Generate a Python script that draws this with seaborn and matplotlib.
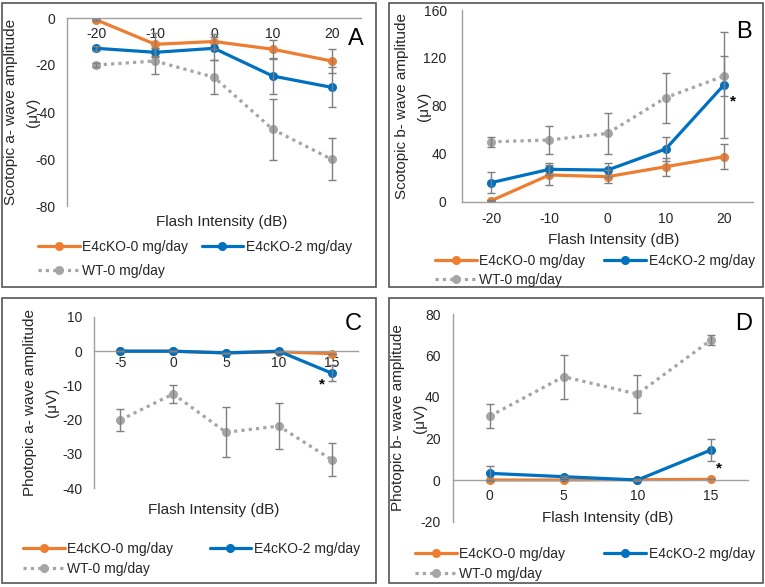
import numpy as np
import pandas as pd
import matplotlib
matplotlib.use("Agg")
import matplotlib.pyplot as plt
import seaborn as sns
from matplotlib.patches import Rectangle
from matplotlib.lines import Line2D

sns.set_theme(style="white")
plt.rcParams['font.family'] = ['Liberation Sans', 'DejaVu Sans']

series_names = ["E4cKO-0 mg/day", "E4cKO-2 mg/day", "WT-0 mg/day"]

# ---- Panel A: scotopic a-wave ----
a_x = ["-20", "-10", "0", "10", "20"]
a_e40 = [-0.8, -11.2, -10.0, -13.3, -18.3]
a_e40_err = [0.5, 5.0, 3.0, 4.0, 5.0]
a_e42 = [-12.9, -14.6, -12.9, -24.7, -29.5]
a_e42_err = [1.0, 2.0, 5.0, 7.5, 8.5]
a_wt = [-20.0, -18.3, -25.2, -47.4, -60.1]
a_wt_err = [1.0, 5.5, 7.3, 13.0, 8.9]

# ---- Panel B: scotopic b-wave ----
b_x = ["-20", "-10", "0", "10", "20"]
b_e40 = [0.8, 22.3, 20.9, 29.2, 37.6]
b_e40_err = [0.5, 8.0, 5.5, 7.5, 10.4]
b_e42 = [15.9, 27.0, 26.4, 44.0, 97.4]
b_e42_err = [8.5, 5.0, 6.0, 10.0, 44.0]
b_wt = [50.0, 51.5, 57.0, 86.8, 104.9]
b_wt_err = [4.0, 11.4, 17.0, 21.0, 17.0]

# ---- Panel C: photopic a-wave ----
c_x = ["-5", "0", "5", "10", "15"]
c_e40 = [0.0, 0.0, -0.5, -0.2, -0.7]
c_e40_err = [0.0, 0.0, 0.0, 0.0, 0.0]
c_e42 = [0.0, 0.0, -0.5, 0.0, -6.4]
c_e42_err = [0.0, 0.0, 0.0, 0.0, 2.4]
c_wt = [-20.1, -12.5, -23.7, -21.9, -31.7]
c_wt_err = [3.3, 2.6, 7.3, 6.7, 4.9]

# ---- Panel D: photopic b-wave ----
d_x = ["0", "5", "10", "15"]
d_e40 = [0.0, 0.0, 0.2, 0.3]
d_e40_err = [0.0, 0.0, 0.0, 0.0]
d_e42 = [3.2, 1.6, 0.0, 14.5]
d_e42_err = [3.5, 0.5, 0.5, 5.5]
d_wt = [30.8, 49.8, 41.4, 67.5]
d_wt_err = [5.6, 10.6, 9.2, 2.5]

W, H = 765, 587
fig = plt.figure(figsize=(W / 100, H / 100), dpi=100)

COLORS = ['#ED7D31', '#0070C0', '#A5A5A5']
DOT = (0, (1.0, 1.3))
STYLES = ['-', '-', DOT]
TXT = '#262626'
AXC = '#A0A0A0'


def ax_at(l, t, r, b):
    return fig.add_axes([l / W, 1 - b / H, (r - l) / W, (b - t) / H])


def box(l, t, r, b):
    fig.patches.append(Rectangle((l / W, 1 - b / H), (r - l) / W, (b - t) / H,
                                 transform=fig.transFigure, fill=False,
                                 edgecolor='#555555', linewidth=1.2))


def panel(ax, cats, vals, errs, ylim, ystep, ypad, xpad):
    pos = np.arange(len(cats))
    for i, (v, e) in enumerate(zip(vals, errs)):
        df = pd.DataFrame({'pos': pos, 'value': v, 'err': e})
        sns.lineplot(data=df, x='pos', y='value', ax=ax, color=COLORS[i],
                     linestyle=STYLES[i], linewidth=2.3, marker='o',
                     markersize=6.5, markeredgewidth=0, errorbar=None,
                     legend=False, zorder=2 + i,
                     dash_capstyle='butt')
        ax.errorbar(df['pos'], df['value'], yerr=df['err'], fmt='none',
                    ecolor='#7F7F7F', elinewidth=1.0, capsize=3,
                    capthick=1.0, zorder=6)
    ax.set_xlim(-0.5, len(cats) - 0.5)
    ax.set_ylim(*ylim)
    ax.set_xticks(pos)
    ax.set_xticklabels(cats)
    ticks = np.arange(ylim[0], ylim[1] + 0.1, ystep)
    ax.set_yticks(ticks)
    ax.set_yticklabels([f"{int(t)}" for t in ticks])
    ax.set_xlabel('')
    ax.set_ylabel('')
    for s in ['top', 'right']:
        ax.spines[s].set_visible(False)
    ax.spines['left'].set_color(AXC)
    ax.spines['bottom'].set_color(AXC)
    ax.spines['left'].set_linewidth(1.0)
    ax.spines['bottom'].set_linewidth(1.0)
    ax.spines['bottom'].set_position(('data', 0))
    ax.tick_params(axis='both', length=0, labelsize=10, colors=TXT)
    ax.tick_params(axis='y', pad=ypad)
    ax.tick_params(axis='x', pad=xpad)
    ax.set_facecolor('none')
    ax.grid(False)


def legend(x, y_center, colsp, labsp):
    hs = [Line2D([], [], color=COLORS[i], linestyle=STYLES[i], linewidth=2.3,
                 marker='o', markersize=6.5, markeredgewidth=0)
          for i in range(3)]
    order = [0, 2, 1]
    fig.legend([hs[i] for i in order], [series_names[i] for i in order],
               loc='upper left', bbox_to_anchor=(x / W, 1 - (y_center - 5) / H),
               bbox_transform=fig.transFigure, ncol=2, frameon=False,
               borderpad=0, borderaxespad=0, handlelength=3.0,
               handletextpad=0.2, columnspacing=colsp, labelspacing=labsp,
               fontsize=10, labelcolor=TXT)


def ylabel(x, y, text):
    fig.text(x / W, 1 - y / H, text, rotation=90, ha='center', va='center',
             fontsize=11, color=TXT, linespacing=1.8, multialignment='center')


def xlabel(x, y):
    fig.text(x / W, 1 - y / H, "Flash Intensity (dB)", ha='center',
             va='center', fontsize=11, color=TXT)


def letter(x, y, t):
    fig.text(x / W, 1 - y / H, t, ha='center', va='baseline', fontsize=17,
             color='black')


# boxes
box(1.5, 2.5, 376, 287)
box(389, 2.5, 763, 287)
box(1.5, 298, 376, 583)
box(389, 298, 763, 583)

# Panel A
axA = ax_at(67, 18, 361, 206)
panel(axA, a_x, [a_e40, a_e42, a_wt], [a_e40_err, a_e42_err, a_wt_err],
      (-80, 0), 20, 8.5, 6.5)
ylabel(22, 112, "Scotopic a- wave amplitude\n(\u03bcV)")
xlabel(222, 222)
letter(356, 45, "A")
legend(38, 245, 0.95, 0.72)

# Panel B
axB = ax_at(462, 10, 753, 201.7)
panel(axB, b_x, [b_e40, b_e42, b_wt], [b_e40_err, b_e42_err, b_wt_err],
      (0, 160), 40, 11, 7.5)
ylabel(413, 106, "Scotopic b- wave amplitude\n(\u03bcV)")
xlabel(614, 240)
letter(744, 38, "B")
axB.text(4.15, 80.1, "*", ha='center', va='baseline', fontsize=11,
         fontweight='bold', color='black')
legend(435, 259, 1.37, 0.36)

# Panel C
axC = ax_at(94, 317, 358, 488)
panel(axC, c_x, [c_e40, c_e42, c_wt], [c_e40_err, c_e42_err, c_wt_err],
      (-40, 10), 10, 8.5, 3.5)
ylabel(41, 402, "Photopic a- wave amplitude\n(\u03bcV)")
xlabel(214, 510)
letter(353.5, 330, "C")
axC.text(3.81, -10.8, "*", ha='center', va='baseline', fontsize=11,
         fontweight='bold', color='black')
legend(23, 547, 2.6, 0.43)

# Panel D
axD = ax_at(453, 314, 748, 521.5)
panel(axD, d_x, [d_e40, d_e42, d_wt], [d_e40_err, d_e42_err, d_wt_err],
      (-20, 80), 20, 9, 6.5)
ylabel(409, 418, "Photopic b- wave amplitude\n(\u03bcV)")
xlabel(607.5, 518)
letter(744, 330, "D")
axD.text(3.1, 3.5, "*", ha='center', va='baseline', fontsize=11,
         fontweight='bold', color='black')
legend(415, 552, 2.8, 0.43)

fig.savefig("out.png", dpi=100, facecolor='white')
